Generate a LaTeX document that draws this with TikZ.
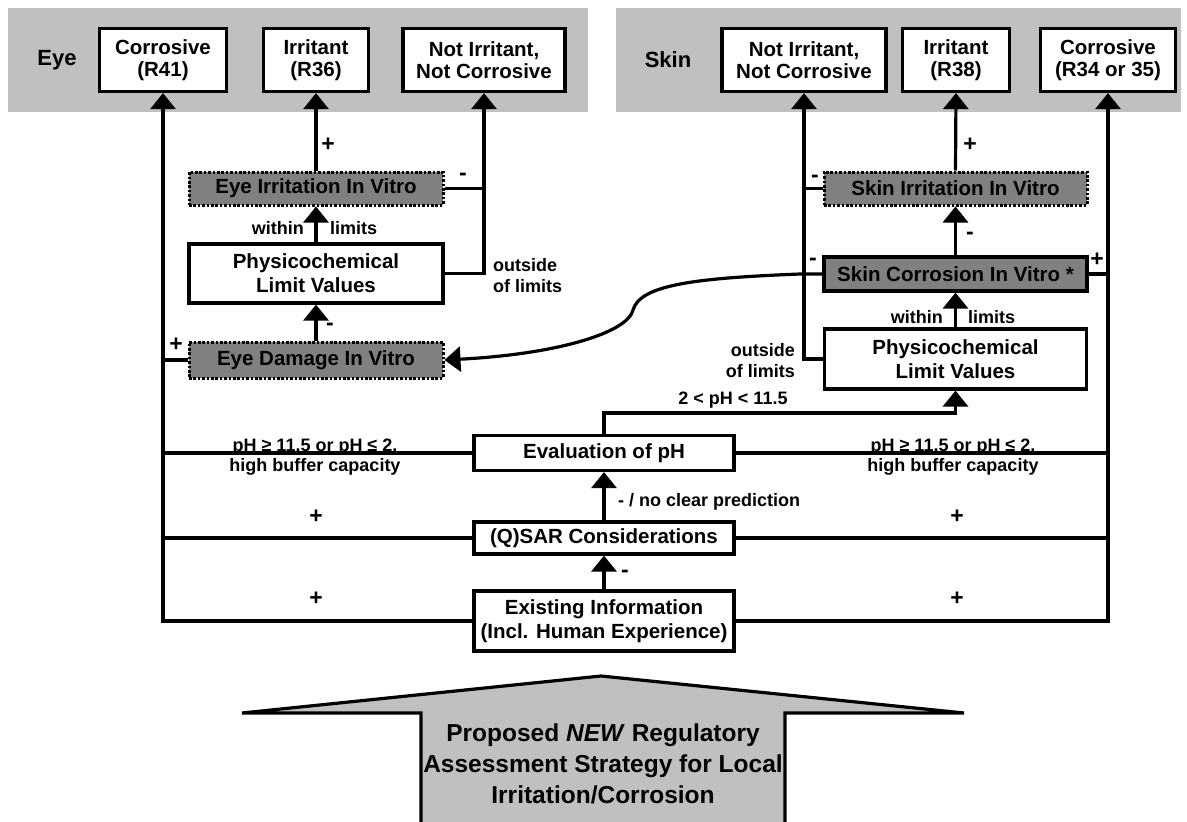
\documentclass[tikz,border=0pt]{standalone}
\usepackage{fontspec}
\setmainfont{Liberation Sans}
\usetikzlibrary{arrows.meta}
\definecolor{band}{HTML}{C0C0C0}
\definecolor{dark}{HTML}{808080}
\begin{document}
\begin{tikzpicture}[x=1pt,y=-1pt,
  font=\bfseries\fontsize{20.5}{22}\selectfont,
  wbox/.style={draw, line width=3.2pt, fill=white, align=center, inner sep=0pt},
  vbox/.style={draw, line width=3pt, dash pattern=on 2.6pt off 1.8pt, fill=dark, align=center, inner sep=0pt},
  cbox/.style={draw, line width=3.2pt, fill=dark, align=center, inner sep=0pt},
  lbl/.style={font=\bfseries\fontsize{18}{21}\selectfont, inner sep=0pt, align=center},
  sgn/.style={font=\bfseries\fontsize{23}{23}\selectfont, inner sep=0pt},
  conn/.style={line width=3.2pt},
  arr/.style={line width=3.2pt, -{Triangle[width=25pt,length=16pt]}},
]
\useasboundingbox (0,0) rectangle (1187,822);
% bands
\fill[band] (8,8) rectangle (588,112);
\fill[band] (616,8) rectangle (1181,112);
\node[font=\bfseries\fontsize{22}{22}\selectfont] (eyel) at (57,60) {Eye};
\node[font=\bfseries\fontsize{22}{22}\selectfont] (skinl) at (668,60) {Skin};
% top boxes
\node[wbox, minimum width=127pt, minimum height=63pt] (eC) at (163,60) {Corrosive\\(R41)};
\node[wbox, minimum width=105pt, minimum height=63pt] (eI) at (316,60) {Irritant\\(R36)};
\node[wbox, minimum width=162pt, minimum height=63pt] (eN) at (484,60) {Not Irritant,\\Not Corrosive};
\node[wbox, minimum width=164pt, minimum height=63pt] (sN) at (804,60) {Not Irritant,\\Not Corrosive};
\node[wbox, minimum width=107pt, minimum height=63pt] (sI) at (956,60) {Irritant\\(R38)};
\node[wbox, minimum width=135pt, minimum height=63pt] (sC) at (1108,60) {Corrosive\\(R34 or 35)};
% eye middle
\node[vbox, minimum width=254pt, minimum height=33pt] (eIV) at (316,188.5) {Eye Irritation In Vitro};
\node[wbox, minimum width=254pt, minimum height=59pt, font=\bfseries\fontsize{20.5}{24}\selectfont] (ePC) at (316,273.5) {Physicochemical\\Limit Values};
\node[vbox, minimum width=254pt, minimum height=36pt] (eDV) at (316,360) {Eye Damage In Vitro};
% skin middle
\node[vbox, minimum width=263pt, minimum height=33pt] (sIV) at (955.5,188.5) {Skin Irritation In Vitro};
\node[cbox, minimum width=263pt, minimum height=34pt] (sCV) at (955.5,274) {Skin Corrosion In Vitro *};
\node[wbox, minimum width=262pt, minimum height=60pt, font=\bfseries\fontsize{20.5}{24}\selectfont] (sPC) at (955.5,359) {Physicochemical\\Limit Values};
% central column
\node[wbox, minimum width=260pt, minimum height=35pt] (pH) at (604,453) {Evaluation of pH};
\node[wbox, minimum width=260pt, minimum height=32pt] (qs) at (604,538) {(Q)SAR Considerations};
\node[wbox, minimum width=260pt, minimum height=60pt, font=\bfseries\fontsize{20.5}{24}\selectfont] (ex) at (604,621) {Existing Information\\(Incl. Human Experience)};
% big arrow
\draw[line width=3.2pt, fill=band] (421,830) -- (421,713) -- (242,713) -- (601,676) -- (964,713) -- (785,713) -- (785,830);
\node[font=\bfseries\fontsize{24.5}{31}\selectfont, align=center] (big) at (603,764) {Proposed \textit{NEW} Regulatory\\Assessment Strategy for Local\\Irritation/Corrosion};
% trunks
\draw[arr] (ex.west) -| (eC.south);
\draw[conn] (qs.west) -- (qs.west -| eC.south);
\draw[conn] (pH.west) -- (pH.west -| eC.south);
\draw[conn] (eDV.west) -- (eDV.west -| eC.south);
\draw[arr] (ex.east) -| (sC.south);
\draw[conn] (qs.east) -- (qs.east -| sC.south);
\draw[conn] (pH.east) -- (pH.east -| sC.south);
\draw[conn] (sCV.east) -- (sCV.east -| sC.south);
% central arrows
\draw[arr] (ex.north) -- (qs.south);
\draw[arr] (qs.north) -- (pH.south);
\coordinate (phup) at (604,413);
\draw[arr] (pH.north) -- (phup) -| (sPC.south);
% eye
\draw[arr] (eDV.north) -- (ePC.south);
\draw[arr] (ePC.north) -- (eIV.south);
\draw[arr] (eIV.north) -- (eI.south);
\draw[arr] (ePC.east) -| (eN.south);
\draw[conn] (eIV.east) -- (eIV.east -| eN.south);
% skin
\draw[arr] (sPC.north) -- (sCV.south);
\draw[arr] (sCV.north) -- (sIV.south);
\draw[arr] (sIV.north) -- (sI.south);
\draw[arr] (sPC.west) -| (sN.south);
\draw[conn] (sIV.west) -- (sIV.west -| sN.south);
% curve
\draw[arr] (sCV.west) -- (800,274) .. controls (700,278) and (640,284) .. (633,310) .. controls (628,332) and (560,354) .. (eDV.east);
% signs
\node[sgn] (p1) at (328,145) {+};
\node[sgn] (m1) at (463,177) {-};
\node[sgn] (p2) at (176,345) {+};
\node[sgn] (m2) at (330,327) {-};
\node[sgn] (p3) at (970,145) {+};
\node[sgn] (m3) at (815,179) {-};
\node[sgn] (m4) at (970,236) {-};
\node[sgn] (m5) at (813,262) {-};
\node[sgn] (p4) at (1097,260) {+};
\node[sgn] (p5) at (316,517) {+};
\node[sgn] (p6) at (957,517) {+};
\node[sgn] (p7) at (316,599) {+};
\node[sgn] (p8) at (957,599) {+};
\node[sgn] (m6) at (625,574) {-};
% labels
\node[lbl, anchor=east] (w1) at (304,228) {within};
\node[lbl, anchor=west] (l1) at (330,228) {limits};
\node[lbl, anchor=west, align=left] (o1) at (493,276) {outside\\of limits};
\node[lbl, anchor=east] (w2) at (943,317) {within};
\node[lbl, anchor=west] (l2) at (968,317) {limits};
\node[lbl, anchor=east, align=right] (o2) at (795,361) {outside\\of limits};
\node[lbl] (ph1) at (733,400) {2 < pH < 11.5};
\node[lbl, anchor=base] (ph2) at (315,451) {pH ≥ 11.5 or pH ≤ 2,};
\node[lbl] (ph3) at (315,467) {high buffer capacity};
\node[lbl, anchor=base] (ph4) at (953,451) {pH ≥ 11.5 or pH ≤ 2,};
\node[lbl] (ph5) at (953,467) {high buffer capacity};
\node[lbl, anchor=west] (ncp) at (618,502) {- / no clear prediction};
\end{tikzpicture}
\end{document}
